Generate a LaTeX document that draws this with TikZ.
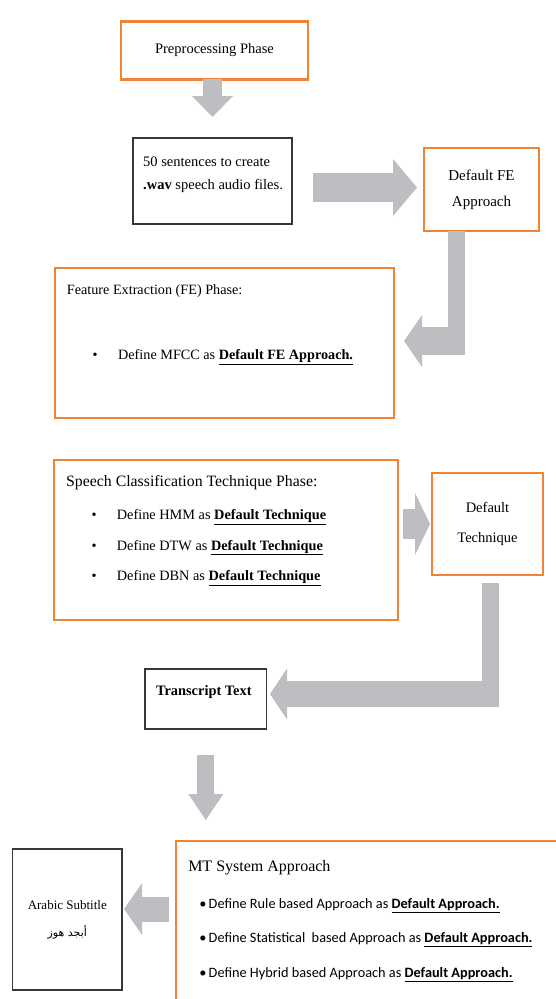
\documentclass[tikz,border=0pt]{standalone}
\usepackage{fontspec}
\setmainfont{Liberation Serif}
\newfontfamily\calibri{Carlito}
\newfontfamily\arabicfont[Script=Arabic]{DejaVu Sans}
\TeXXeTstate=1
\usetikzlibrary{arrows.meta,positioning,calc}
\definecolor{boxorange}{RGB}{238,132,52}
\definecolor{boxblack}{RGB}{55,55,55}
\definecolor{arrowgray}{RGB}{189,190,193}

\begin{document}
\begin{tikzpicture}[
  orangebox/.style={draw=boxorange, line width=2.6pt, outer sep=0pt, inner sep=0pt, align=center},
  blackbox/.style={draw=boxblack, line width=1.4pt, outer sep=0pt, inner sep=0pt, align=center},
  linetext/.style={anchor=base west, inner sep=0pt},
  shaft/.style={draw=arrowgray, line width=#1},
  fatarrow/.style n args={3}{draw=arrowgray, line width=#1, -{Triangle[width=#2, length=#3, line width=0pt]}},
]

\useasboundingbox (0,0) rectangle (556pt,-999pt);
\clip (0,0) rectangle (556pt,-999pt);

\node(pre)[orangebox, minimum width=187pt, minimum height=57.5pt, font=\fontsize{14.5}{17}\selectfont] at (214.5pt,-50.5pt) {Preprocessing Phase};

\node(wav)[blackbox, minimum width=159pt, minimum height=86pt, below=58.75pt of pre, xshift=-2pt] {};
\node(wavline1)[linetext, font=\fontsize{14.5}{17}\selectfont] at ([shift={(10pt,-28.4pt)}]wav.north west) {50 sentences to create};
\node(wavline2)[linetext, font=\fontsize{14.5}{17}\selectfont] at ([yshift=-23pt]wavline1.base west) {\textbf{.wav} speech audio files.};

\node(dfe)[orangebox, minimum width=115pt, minimum height=83pt, right=132pt of wav, yshift=-8.5pt, font=\fontsize{15}{26}\selectfont] {Default FE\\Approach};

\node(fe)[orangebox, minimum width=339pt, minimum height=150pt, below=44pt of wav, xshift=12pt] {};
\node(fetitle)[linetext, font=\fontsize{14.2}{17}\selectfont] at ([shift={(11.7pt,-26.3pt)}]fe.north west) {Feature Extraction (FE) Phase:};
\node(feitem)[linetext, font=\fontsize{14.2}{17}\selectfont] at ([shift={(25.8pt,-65pt)}]fetitle.base west) {\makebox[25.5pt][l]{\textbullet}Define MFCC as \underline{\textbf{Default FE Approach.}}};

\node(sct)[orangebox, minimum width=344pt, minimum height=160pt, below=42pt of fe, xshift=1.5pt] {};
\node(scttitle)[linetext, font=\fontsize{15.8}{19}\selectfont] at ([shift={(12pt,-26.4pt)}]sct.north west) {Speech Classification Technique Phase:};
\node(hmm)[linetext, font=\fontsize{14.3}{17}\selectfont] at ([shift={(25.5pt,-32.9pt)}]scttitle.base west) {\makebox[25.2pt][l]{\textbullet}Define HMM as \underline{\textbf{Default Technique}}};
\node(dtw)[linetext, font=\fontsize{14.3}{17}\selectfont] at ([yshift=-30.8pt]hmm.base west) {\makebox[25.2pt][l]{\textbullet}Define DTW as \underline{\textbf{Default Technique}}};
\node(dbn)[linetext, font=\fontsize{14.3}{17}\selectfont] at ([yshift=-30.8pt]dtw.base west) {\makebox[25.2pt][l]{\textbullet}Define DBN as \underline{\textbf{Default Technique}}};

\node(dtech)[orangebox, minimum width=111pt, minimum height=102pt, right=34pt of sct, yshift=16pt, font=\fontsize{14.5}{30}\selectfont] {Default\\Technique};

\node(trans)[blackbox, minimum width=121.5pt, minimum height=60pt, below=49pt of sct, xshift=-20.2pt] {};
\node(transtext)[inner sep=0pt, anchor=base, font=\bfseries\fontsize{14.4}{17}\selectfont] at ([shift={(-2pt,-26pt)}]trans.north) {Transcript Text};

\node(mt)[orangebox, minimum width=400pt, minimum height=170pt, below right=112pt and 31pt of trans.south west] {};
\node(mttitle)[linetext, font=\fontsize{16}{19}\selectfont] at ([shift={(12pt,-30.5pt)}]mt.north west) {MT System Approach};
\node(rule)[linetext, font=\calibri\fontsize{14.3}{17}\selectfont] at ([shift={(11pt,-36.7pt)}]mttitle.base west) {\textbullet\,Define Rule based Approach as \underline{\textbf{Default Approach.}}};
\node(stat)[linetext, font=\calibri\fontsize{14.3}{17}\selectfont] at ([yshift=-34.5pt]rule.base west) {\textbullet\,Define Statistical\ \ based Approach as \underline{\textbf{Default Approach.}}};
\node(hybrid)[linetext, font=\calibri\fontsize{14.3}{17}\selectfont] at ([yshift=-34.5pt]stat.base west) {\textbullet\,Define Hybrid based Approach as \underline{\textbf{Default Approach.}}};

\node(arab)[blackbox, minimum width=109.5pt, minimum height=141pt, left=54pt of mt, yshift=6.5pt, font=\fontsize{13}{27}\selectfont] {Arabic Subtitle\\{\arabicfont\fontsize{11}{27}\selectfont\beginR أبجد هوز\endR}};

% preprocessing to sentences
\coordinate (wavin) at ([yshift=21pt]wav.north);
\draw[fatarrow={19pt}{41pt}{21pt}] (pre.south -| wavin) -- (wavin);

% sentences to default FE
\coordinate (dfein) at ([shift={(-7pt,2pt)}]dfe.west);
\draw[fatarrow={29pt}{57pt}{24pt}] ($(wav.east |- dfein)+(21pt,0)$) -- (dfein);

% default FE back to FE phase
\coordinate (dfeout) at ([xshift=-25pt]dfe.south);
\coordinate (fein) at ([shift={(10pt,2pt)}]fe.east);
\draw[shaft=17pt] (dfeout) -- ($(dfeout |- fein)+(0,-14pt)$);
\draw[fatarrow={28pt}{52pt}{18pt}] ($(dfeout |- fein)+(8.5pt,0)$) -- (fein);

% classification to default technique
\draw[fatarrow={30pt}{62pt}{15pt}] ($(sct.east |- dtech.west)+(4.7pt,0)$) -- ([xshift=-2pt]dtech.west);

% default technique to transcript
\coordinate (dtechout) at ([shift={(3pt,-8pt)}]dtech.south);
\coordinate (transin) at ([shift={(3.5pt,5pt)}]trans.east);
\draw[shaft=17.5pt] (dtechout) -- ($(dtechout |- transin)+(0,-13pt)$);
\draw[fatarrow={26pt}{51pt}{17pt}] ($(dtechout |- transin)+(8.75pt,0)$) -- (transin);

% transcript to MT
\coordinate (transout) at ([yshift=-26pt]trans.south);
\draw[fatarrow={17pt}{35pt}{26pt}] (transout) -- ($(transout |- mt.north)+(0,21pt)$);

% MT to arabic subtitle
\coordinate (mtout) at ([shift={(-7.5pt,17pt)}]mt.west);
\draw[fatarrow={25pt}{52pt}{18pt}] (mtout) -- ($(arab.east |- mtout)+(2pt,0)$);

\end{tikzpicture}
\end{document}
